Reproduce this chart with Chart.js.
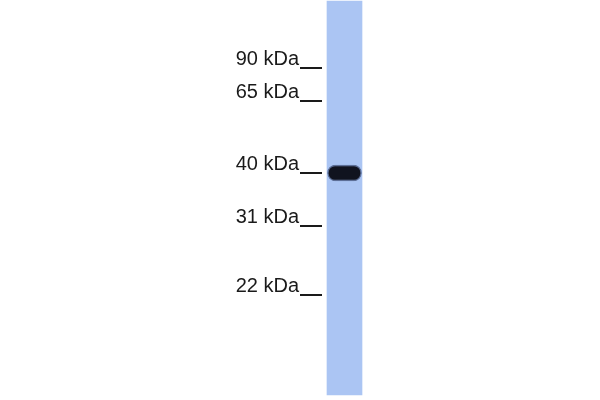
<!DOCTYPE html>
<html lang="en">
<head>
    <meta charset="UTF-8">
    <title>Western blot</title>
    <script src="https://cdn.jsdelivr.net/npm/chart.js"></script>
    <style>
        body { margin: 0; background: #fff; }
        #wrap { width: 600px; height: 400px; }
    </style>
</head>
<body>
    <div id="wrap"><canvas id="blot"></canvas></div>
    <script>
    // marker ladder: labels and where each one runs (px from the top of the gel)
    const markerLabels = ['90 kDa', '65 kDa', '40 kDa', '31 kDa', '22 kDa'];
    const markerPos = [68, 101, 173, 226, 295];

    // the single lane and its band (run distance, top..bottom)
    const lanes = ['Sample'];
    const laneRange = [[1, 395]];
    const bandRange = [[165, 181]];

    const ctx = document.getElementById('blot').getContext('2d');
    new Chart(ctx, {
        type: 'bar',
        data: {
            labels: lanes,
            datasets: [
                {
                    label: 'band',
                    data: bandRange,
                    backgroundColor: '#10131f',
                    borderColor: 'rgba(30, 40, 75, 0.55)',
                    borderWidth: 1.5,
                    borderSkipped: false,
                    borderRadius: 8,
                    barThickness: 34,
                    grouped: false,
                    order: 0
                },
                {
                    label: 'lane',
                    data: laneRange,
                    backgroundColor: '#abc5f3',
                    borderWidth: 0,
                    barThickness: 35,
                    grouped: false,
                    order: 1
                }
            ]
        },
        options: {
            responsive: true,
            maintainAspectRatio: false,
            animation: false,
            layout: { padding: { left: 0, right: 233, top: 0, bottom: 0 } },
            plugins: {
                legend: { display: false },
                tooltip: { enabled: false }
            },
            scales: {
                x: { display: false },
                y: {
                    min: 0,
                    max: 400,
                    reverse: true,
                    border: { display: false },
                    grid: {
                        drawOnChartArea: false,
                        drawTicks: true,
                        tickLength: 22,
                        color: '#1a1a1a',
                        lineWidth: 2
                    },
                    ticks: {
                        padding: 1,
                        labelOffset: -9,
                        color: '#1a1a1a',
                        font: { family: '"Liberation Sans", Arial, sans-serif', size: 20 },
                        callback: function (value) {
                            const i = markerPos.indexOf(value);
                            return i >= 0 ? markerLabels[i] : '';
                        }
                    },
                    afterBuildTicks: function (axis) {
                        axis.ticks = markerPos.map(v => ({ value: v }));
                    },
                    afterFit: function (axis) {
                        axis.width = 322;
                        axis.paddingTop = 0;
                        axis.paddingBottom = 0;
                    }
                }
            }
        }
    });
    </script>
</body>
</html>
